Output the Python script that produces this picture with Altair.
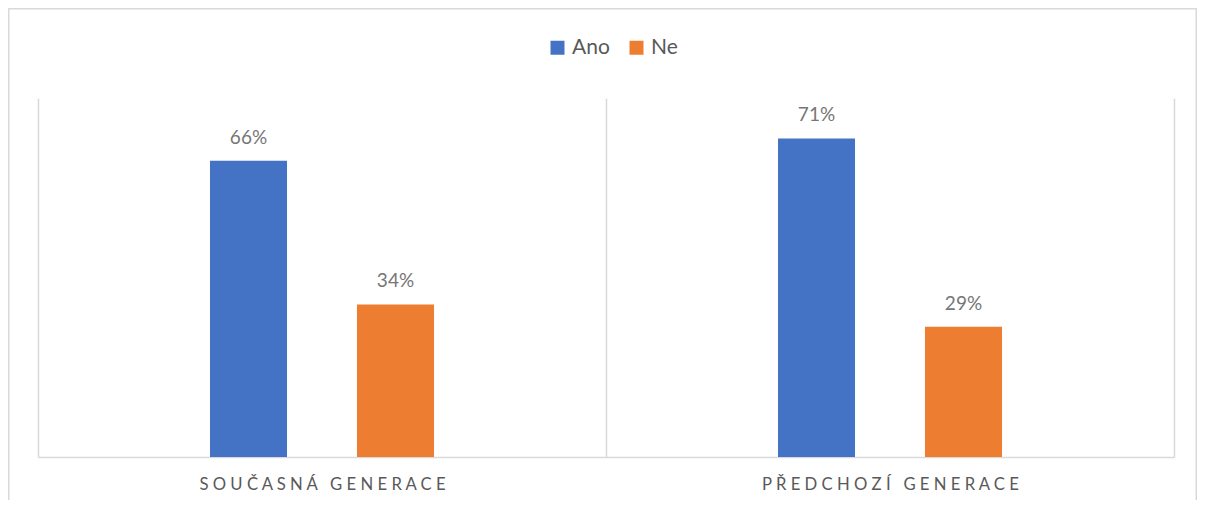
import altair as alt
import pandas as pd

groups = ["Současná generace", "Předchozí generace"]
series = ["Ano", "Ne"]
ano_values = [0.66, 0.71]
ne_values = [0.34, 0.29]

colors = ["#4472C4", "#ED7D31"]
FONT = "Lato"
SP = "\u00a0"


def spaced(text):
    return SP.join(text.upper().replace(" ", SP))


rows = []
for g, a, n in zip(groups, ano_values, ne_values):
    lab = spaced(g)
    rows.append({"group": lab, "series": "Ano", "value": a})
    rows.append({"group": lab, "series": "Ne", "value": n})
df = pd.DataFrame(rows)
group_order = [spaced(g) for g in groups]
# empty slots on both sides of the two series inside each group
offset_domain = ["_left"] + series + ["_right"]

W, H = 1136, 359

x_enc = alt.X("group:N", sort=group_order,
              scale=alt.Scale(paddingInner=0, paddingOuter=0),
              axis=alt.Axis(title=None, tickBand="extent", grid=True, gridColor="#d9d9d9",
                            gridWidth=1.5, domainColor="#d9d9d9", domainWidth=1.5,
                            ticks=False, labelAngle=0, labelFontSize=16.7, labelFont=FONT,
                            labelColor="#595959", labelPadding=19, labelLimit=0))
xo_scale = alt.Scale(domain=offset_domain, paddingInner=0.476, paddingOuter=0.17)
y_enc = alt.Y("value:Q", scale=alt.Scale(domain=[0, 0.8]), axis=None)

bars = alt.Chart(df).mark_bar().encode(
    x=x_enc, xOffset=alt.XOffset("series:N", scale=xo_scale), y=y_enc,
    color=alt.Color("series:N", sort=series,
                    scale=alt.Scale(domain=series, range=colors),
                    legend=alt.Legend(title=None, orient="none", legendX=509, legendY=-61,
                                      direction="horizontal", symbolType="square",
                                      symbolSize=196, symbolStrokeWidth=0,
                                      labelFontSize=21, labelFont=FONT, labelColor="#595959",
                                      labelOffset=4, columnPadding=16)),
)

labels = alt.Chart(df).mark_text(fontSize=19, font=FONT, color="#767676",
                                 baseline="alphabetic", dy=-17).encode(
    x=alt.X("group:N", sort=group_order), xOffset=alt.XOffset("series:N", scale=xo_scale),
    y=y_enc, text=alt.Text("value:Q", format=".0%"),
)

border = alt.Chart(alt.Data(values=[{}])).mark_rect(filled=False, stroke="#d9d9d9",
                                                    strokeWidth=1.5).encode(
    x=alt.value(-29.25), x2=alt.value(1158.25), y=alt.value(-89.25), y2=alt.value(430),
)

chart = alt.layer(border, bars, labels).properties(
    width=W, height=H,
    autosize=alt.AutoSizeParams(type="none"),
    padding={"left": 30, "top": 90, "right": 23, "bottom": 43},
).configure_view(stroke=None)

chart.save("out.html", embed_options={"renderer": "svg", "actions": False})
